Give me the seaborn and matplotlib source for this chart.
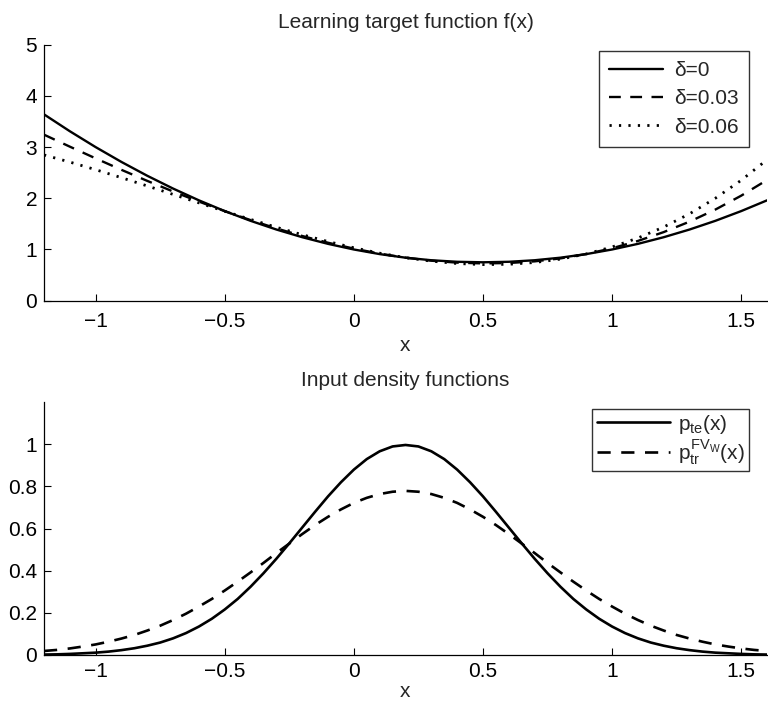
import numpy as np
import pandas as pd
import seaborn as sns
import matplotlib
matplotlib.use("Agg")
import matplotlib.pyplot as plt

# ---- data ----
x_f = [-1.2, -1.1, -1.0, -0.9, -0.8, -0.7, -0.6, -0.5, -0.4, -0.3, -0.2, -0.1, 0.0,
       0.1, 0.2, 0.3, 0.4, 0.5, 0.6, 0.7, 0.8, 0.9, 1.0, 1.1, 1.2, 1.3, 1.4, 1.5, 1.6]
f_d0 = [3.64, 3.31, 3.00, 2.71, 2.44, 2.19, 1.96, 1.75, 1.56, 1.39, 1.24, 1.11, 1.00,
        0.91, 0.84, 0.79, 0.76, 0.75, 0.76, 0.79, 0.84, 0.91, 1.00, 1.11, 1.24, 1.39, 1.56, 1.75, 1.96]
f_d003 = [3.243, 3.009, 2.780, 2.556, 2.340, 2.133, 1.936, 1.749, 1.574, 1.412, 1.264, 1.132, 1.017,
          0.919, 0.840, 0.781, 0.743, 0.728, 0.736, 0.768, 0.826, 0.911, 1.024, 1.167, 1.340, 1.544,
          1.780, 2.051, 2.357]
f_d006 = [2.847, 2.708, 2.559, 2.403, 2.241, 2.076, 1.911, 1.747, 1.588, 1.434, 1.289, 1.155, 1.034,
          0.928, 0.840, 0.772, 0.726, 0.705, 0.711, 0.746, 0.812, 0.913, 1.049, 1.224, 1.439, 1.697,
          2.001, 2.352, 2.753]
f_labels = ["δ=0", "δ=0.03", "δ=0.06"]

x_p = [-1.20, -1.15, -1.10, -1.05, -1.00, -0.95, -0.90, -0.85, -0.80, -0.75, -0.70, -0.65, -0.60,
       -0.55, -0.50, -0.45, -0.40, -0.35, -0.30, -0.25, -0.20, -0.15, -0.10, -0.05, 0.00, 0.05,
       0.10, 0.15, 0.20, 0.25, 0.30, 0.35, 0.40, 0.45, 0.50, 0.55, 0.60, 0.65, 0.70, 0.75, 0.80,
       0.85, 0.90, 0.95, 1.00, 1.05, 1.10, 1.15, 1.20, 1.25, 1.30, 1.35, 1.40, 1.45, 1.50, 1.55, 1.60]
p_te = [0.002, 0.003, 0.005, 0.008, 0.011, 0.016, 0.023, 0.032, 0.044, 0.059, 0.079, 0.104, 0.135,
        0.172, 0.216, 0.266, 0.324, 0.388, 0.457, 0.530, 0.605, 0.680, 0.753, 0.820, 0.880, 0.930,
        0.967, 0.990, 0.997, 0.990, 0.967, 0.930, 0.880, 0.820, 0.753, 0.680, 0.605, 0.530, 0.457,
        0.388, 0.324, 0.266, 0.216, 0.172, 0.135, 0.104, 0.079, 0.059, 0.044, 0.032, 0.023, 0.016,
        0.011, 0.008, 0.005, 0.003, 0.002]
p_tr = [0.019, 0.024, 0.031, 0.040, 0.050, 0.063, 0.078, 0.095, 0.116, 0.139, 0.166, 0.196, 0.230,
        0.266, 0.306, 0.348, 0.392, 0.437, 0.484, 0.529, 0.574, 0.617, 0.656, 0.691, 0.722, 0.746,
        0.764, 0.775, 0.779, 0.775, 0.764, 0.746, 0.722, 0.691, 0.656, 0.617, 0.574, 0.529, 0.484,
        0.437, 0.392, 0.348, 0.306, 0.266, 0.230, 0.196, 0.166, 0.139, 0.116, 0.095, 0.078, 0.063,
        0.050, 0.040, 0.031, 0.024, 0.019]
p_labels = [r"$p_{\mathrm{te}}(x)$", r"$p_{\mathrm{tr}}^{\mathrm{FV}_{\mathrm{W}}}(x)$"]

x_ticks = [-1, -0.5, 0, 0.5, 1, 1.5]
x_ticklabels = ["\u22121", "\u22120.5", "0", "0.5", "1", "1.5"]
y1_ticks = [0, 1, 2, 3, 4, 5]
y2_ticks = [0, 0.2, 0.4, 0.6, 0.8, 1]
y2_ticklabels = ["0", "0.2", "0.4", "0.6", "0.8", "1"]

# ---- style ----
sns.set_theme(style="white")
plt.rcParams["font.family"] = ["Liberation Sans", "DejaVu Sans"]
plt.rcParams["mathtext.fontset"] = "custom"
plt.rcParams["mathtext.rm"] = "Liberation Sans"
plt.rcParams["mathtext.it"] = "Liberation Sans"
plt.rcParams["mathtext.bf"] = "Liberation Sans:bold"
FS = 15

fig = plt.figure(figsize=(7.68, 7.10), dpi=100)
ax1 = fig.add_axes([0.0573, 0.5765, 0.9414, 0.3605])
ax2 = fig.add_axes([0.0573, 0.0775, 0.9414, 0.356])

df_f = pd.DataFrame({"x": x_f * 3,
                     "y": f_d0 + f_d003 + f_d006,
                     "s": [f_labels[0]] * len(x_f) + [f_labels[1]] * len(x_f) + [f_labels[2]] * len(x_f)})
styles_f = {f_labels[0]: "-", f_labels[1]: (0, (5, 4)), f_labels[2]: (0, (0.8, 2.6))}
widths_f = {f_labels[0]: 1.7, f_labels[1]: 1.7, f_labels[2]: 2.0}
for lab in f_labels:
    sub = df_f[df_f["s"] == lab]
    sns.lineplot(data=sub, x="x", y="y", ax=ax1, color="black", linewidth=widths_f[lab],
                 linestyle=styles_f[lab], label=lab, sort=False)

df_p = pd.DataFrame({"x": x_p * 2, "y": p_te + p_tr,
                     "s": [p_labels[0]] * len(x_p) + [p_labels[1]] * len(x_p)})
styles_p = {p_labels[0]: "-", p_labels[1]: (0, (5, 4))}
for lab in p_labels:
    sub = df_p[df_p["s"] == lab]
    sns.lineplot(data=sub, x="x", y="y", ax=ax2, color="black", linewidth=1.9,
                 linestyle=styles_p[lab], label=lab, sort=False)

for ax in (ax1, ax2):
    ax.set_xlim(-1.2, 1.6)
    ax.set_xticks(x_ticks)
    ax.set_xticklabels(x_ticklabels, fontsize=FS)
    ax.set_ylabel("")
    for s in ("top", "right"):
        ax.spines[s].set_visible(False)
    for s in ("left", "bottom"):
        ax.spines[s].set_color("black")
        ax.spines[s].set_linewidth(0.9)
    ax.tick_params(axis="both", which="both", direction="in", length=5, width=0.8,
                   color="black", labelcolor="black", left=True, bottom=True, pad=5)
    ax.patch.set_alpha(0)

ax1.tick_params(axis="x", pad=8)
ax1.set_xlabel("x", fontsize=FS, labelpad=4)
ax2.set_xlabel("x", fontsize=FS, labelpad=1)

ax1.set_ylim(0, 5)
ax1.set_yticks(y1_ticks)
ax1.set_yticklabels([str(v) for v in y1_ticks], fontsize=FS)
ax1.set_title("Learning target function f(x)", fontsize=FS, pad=12)

ax2.set_ylim(0, 1.2)
ax2.set_yticks(y2_ticks)
ax2.set_yticklabels(y2_ticklabels, fontsize=FS)
ax2.set_title("Input density functions", fontsize=FS, pad=12)

leg1 = ax1.legend(loc="upper right", bbox_to_anchor=(0.975, 0.977), fontsize=FS,
                  frameon=True, fancybox=False, edgecolor="black", handlelength=2.6,
                  labelspacing=0.45, borderpad=0.5, handletextpad=0.5, borderaxespad=0)
leg1.get_frame().set_linewidth(1.0)
leg2 = ax2.legend(loc="upper right", bbox_to_anchor=(0.975, 0.975), fontsize=FS,
                  frameon=True, fancybox=False, edgecolor="black", handlelength=3.5,
                  labelspacing=0.12, borderpad=0.2, handletextpad=0.4, borderaxespad=0)
leg2.get_frame().set_linewidth(1.0)

fig.savefig("out.png", dpi=100)
